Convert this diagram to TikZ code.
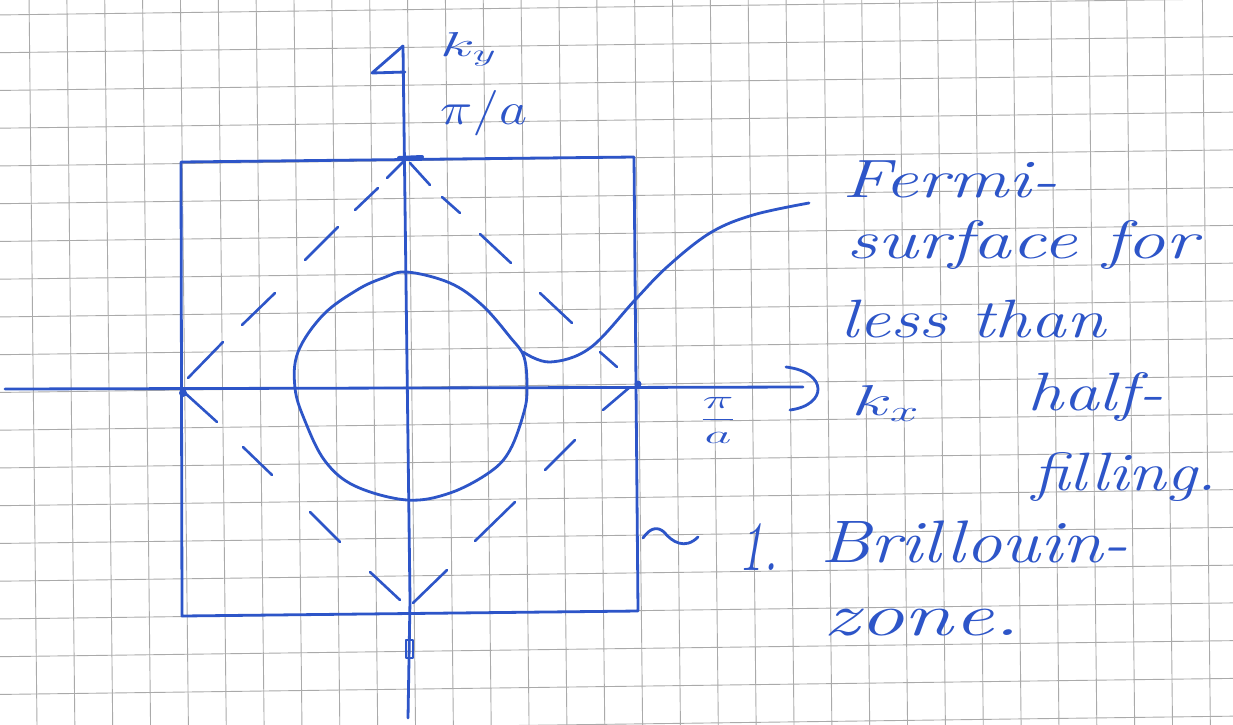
\documentclass[tikz,border=0pt]{standalone}
\usepackage{graphicx}
\definecolor{penblue}{RGB}{45,85,200}
\definecolor{gridc}{RGB}{170,170,170}
\newcommand\wbox[2]{\resizebox{#1pt}{\height}{#2}}
\newcommand\whbox[3]{\resizebox{#1pt}{#2pt}{#3}}
\begin{document}
\begin{tikzpicture}[x=1pt,y=-1pt,
  penline/.style={draw=penblue, line width=2.8pt, line cap=round, line join=round},
  dashseg/.style={draw=penblue, line width=2.6pt, line cap=round},
  gridline/.style={draw=gridc, line width=0.9pt},
  hand/.style={text=penblue, inner sep=0pt, anchor=base west, font=\fontsize{54}{60}\selectfont\itshape},
  handm/.style={text=penblue, inner sep=0pt, anchor=base west, font=\fontsize{20}{24}\selectfont}]
\fill[white] (0,0) rectangle (1233,724);
\useasboundingbox (0,0) rectangle (1233,724);
% grid paper
\begin{scope}
\clip (0,0) rectangle (1233,724);
\foreach \j in {0,...,32} \draw[gridline] ({29+37.85*\j},-5) -- ({29+37.85*\j+8.1},735);
\foreach \k in {0,...,20} \draw[gridline] (-5,{15+37.75*\k}) -- (1240,{15+37.75*\k-16.2});
\end{scope}
% Brillouin zone square
\coordinate (TL) at (181,162);
\coordinate (TR) at (634,157);
\coordinate (BR) at (638,611);
\coordinate (BL) at (182,616);
\draw[penline] (TL) -- (TR) -- (BR) -- (BL) -- cycle;
% axes
\coordinate (xL) at (5,389);
\coordinate (xR) at (803,387);
\draw[penline] (xL) -- (xR);
\draw[penline] (786,367) .. controls (828,372) and (828,405) .. (790,410);
\coordinate (yB) at (408,718);
\coordinate (yT) at (403,46);
\draw[penline] (yB) -- (410,600) -- (yT);
\draw[penline] (yT) -- (372,73) -- (405,72);
\draw[penline, line width=4pt] (399,158) -- (422,157);
\draw[penline, line width=2pt] (406,640) rectangle (413,658);
\fill[penblue] (183,393) circle (4);
\fill[penblue] (638,384) circle (3.5);
% dashed diamond
\foreach \a/\b/\c/\d in {188/378/223/342, 242/325/275/293, 305/260/338/227, 355/210/378/188, 387/178/404/161,
  410/163/430/185, 442/197/460/213, 480/234/511/263, 540/293/572/323, 600/352/617/367,
  603/410/630/387, 545/470/575/440, 475/541/515/502, 413/603/447/570,
  185/393/217/422, 243/447/272/475, 310/512/340/542, 370/572/400/600}
  \draw[dashseg] (\a,\b) -- (\c,\d);
% Fermi surface
\draw[penline] plot[smooth cycle, tension=0.6] coordinates {(407,272) (450,283) (482,305) (510,337) (524,357) (527,388) (524,412) (510,450) (490,472) (450,493) (407,500) (355,486) (325,461) (305,421) (295,388) (298,352) (323,315) (357,290) (383,278)};
% leader
\coordinate (fsA) at (523,352);
\coordinate (fsB) at (809,203);
\draw[penline] plot[smooth, tension=0.6] coordinates {(fsA) (550,362) (590,348) (635,300) (667,267) (710,233) (753,215) (fsB)};
% tilde pointing at the zone boundary
\draw[penline] (643,538) .. controls (650,528) and (657,526) .. (664,532) .. controls (672,542) and (685,550) .. (698,537);
% labels
\node[handm] (ky) at (440,56) {\whbox{57}{24}{$k_y$}};
\node[handm] (pia) at (440,124) {\whbox{87}{34}{$\pi/a$}};
\node[text=penblue, inner sep=0pt, font=\fontsize{20}{24}\selectfont] (pib) at (718,420) {\resizebox*{37pt}{46pt}{$\displaystyle\frac{\pi}{a}$}};
\node[handm] (kx) at (852,415) {\whbox{68}{30}{$k_x$}};
\node[hand] (l1) at (842,197) {\wbox{215}{Fermi-}};
\node[hand] (l2) at (846,258) {\wbox{351}{surface for}};
\node[hand] (l3) at (840,337) {\wbox{265}{less than}};
\node[hand] (l4) at (1027,410) {\wbox{136}{half-}};
\node[hand] (l5) at (1032,490) {\wbox{185}{filling.}};
\node[hand] (b1) at (738,570) {\whbox{40}{47}{1.}};
\node[hand, font=\fontsize{60}{66}\selectfont\itshape] (b2) at (820,562) {\wbox{308}{Brillouin-}};
\node[hand, font=\fontsize{60}{66}\selectfont\itshape] (b3) at (823,635) {\wbox{197}{zone.}};
\end{tikzpicture}
\end{document}
